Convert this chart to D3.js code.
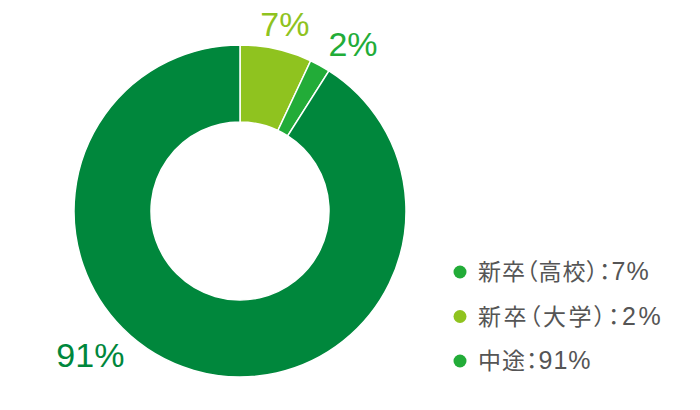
<!DOCTYPE html>
<html><head><meta charset="utf-8">
<script src="https://cdn.jsdelivr.net/npm/d3@7"></script>
<style>
html,body{margin:0;padding:0;background:#fff;}
svg{display:block;}
.leg{font-feature-settings:"palt" 1;}
</style>
</head><body>
<svg id="chart" width="700" height="410"></svg>
<script>
// Data
const categories = ["新卒（高校）", "新卒（大学）", "中途"];
const values = [7, 2, 91];
const sliceLabels = ["7%", "2%", "91%"];
const legendLabels = ["新卒（高校）：7%", "新卒（大学）：2%", "中途：91%"];

// Styles (separate from data)
const sliceColors = ["#8fc31f", "#22ac38", "#00873c"];
const labelColors = ["#8fc31f", "#22ac38", "#00873c"];
const legendDotColors = ["#22ac38", "#8fc31f", "#22ac38"];
const legendSpacing = [1, 2.5, 1];

// Layout
const cx = 240, cy = 211, rOuter = 166, rInner = 89;
const labelPolar = [{a: 13.5, r: 192}, {a: 34, r: 202}, {a: 226, r: 208}];

const svg = d3.select("#chart");
const g = svg.append("g").attr("transform", `translate(${cx},${cy})`);

const pie = d3.pie().sort(null).value(d => d);
const arcs = pie(values);
const arc = d3.arc().innerRadius(rInner).outerRadius(rOuter);

g.selectAll("path.slice").data(arcs).enter().append("path")
  .attr("class", "slice")
  .attr("d", arc)
  .attr("fill", (d, i) => sliceColors[i])
  .attr("stroke", "#fff")
  .attr("stroke-width", 1.5);

g.selectAll("text.pct").data(arcs).enter().append("text")
  .attr("class", "pct")
  .attr("x", (d, i) => labelPolar[i].r * Math.sin(labelPolar[i].a * Math.PI / 180))
  .attr("y", (d, i) => -labelPolar[i].r * Math.cos(labelPolar[i].a * Math.PI / 180))
  .attr("text-anchor", "middle")
  .attr("dominant-baseline", "central")
  .attr("font-family", "'Liberation Sans', 'Noto Sans CJK JP', sans-serif")
  .attr("font-size", 34)
  .attr("fill", (d, i) => labelColors[i])
  .text((d, i) => sliceLabels[i]);

const legend = svg.append("g").attr("transform", "translate(460,272)");
const ly = d3.scalePoint().domain(categories).range([0, 89]);
const items = legend.selectAll("g").data(categories).enter().append("g")
  .attr("transform", d => `translate(0,${ly(d)})`);
items.append("circle").attr("r", 6.5).attr("fill", (d, i) => legendDotColors[i]);

function runs(s) {
  const out = [];
  const re = /(：)|([\u3000-\u9fff\uff00-\uffef]+)|([^\u3000-\u9fff\uff00-\uffef]+)/g;
  let m;
  while ((m = re.exec(s))) out.push({t: m[0], cjk: !m[3], colon: !!m[1]});
  return out;
}
items.each(function(d, i) {
  const t = d3.select(this).append("text")
    .attr("class", "leg")
    .attr("x", 18)
    .attr("y", 8)
    .attr("fill", "#555")
    .attr("letter-spacing", legendSpacing[i]);
  t.selectAll("tspan").data(runs(legendLabels[i])).enter().append("tspan")
    .attr("dx", r => r.colon ? 4 : 0)
    .attr("font-family", r => r.cjk ? "'Noto Sans CJK JP', sans-serif" : "'Liberation Sans', sans-serif")
    .attr("font-size", r => r.cjk ? 23 : 25)
    .text(r => r.t);
});
</script>
</body></html>
